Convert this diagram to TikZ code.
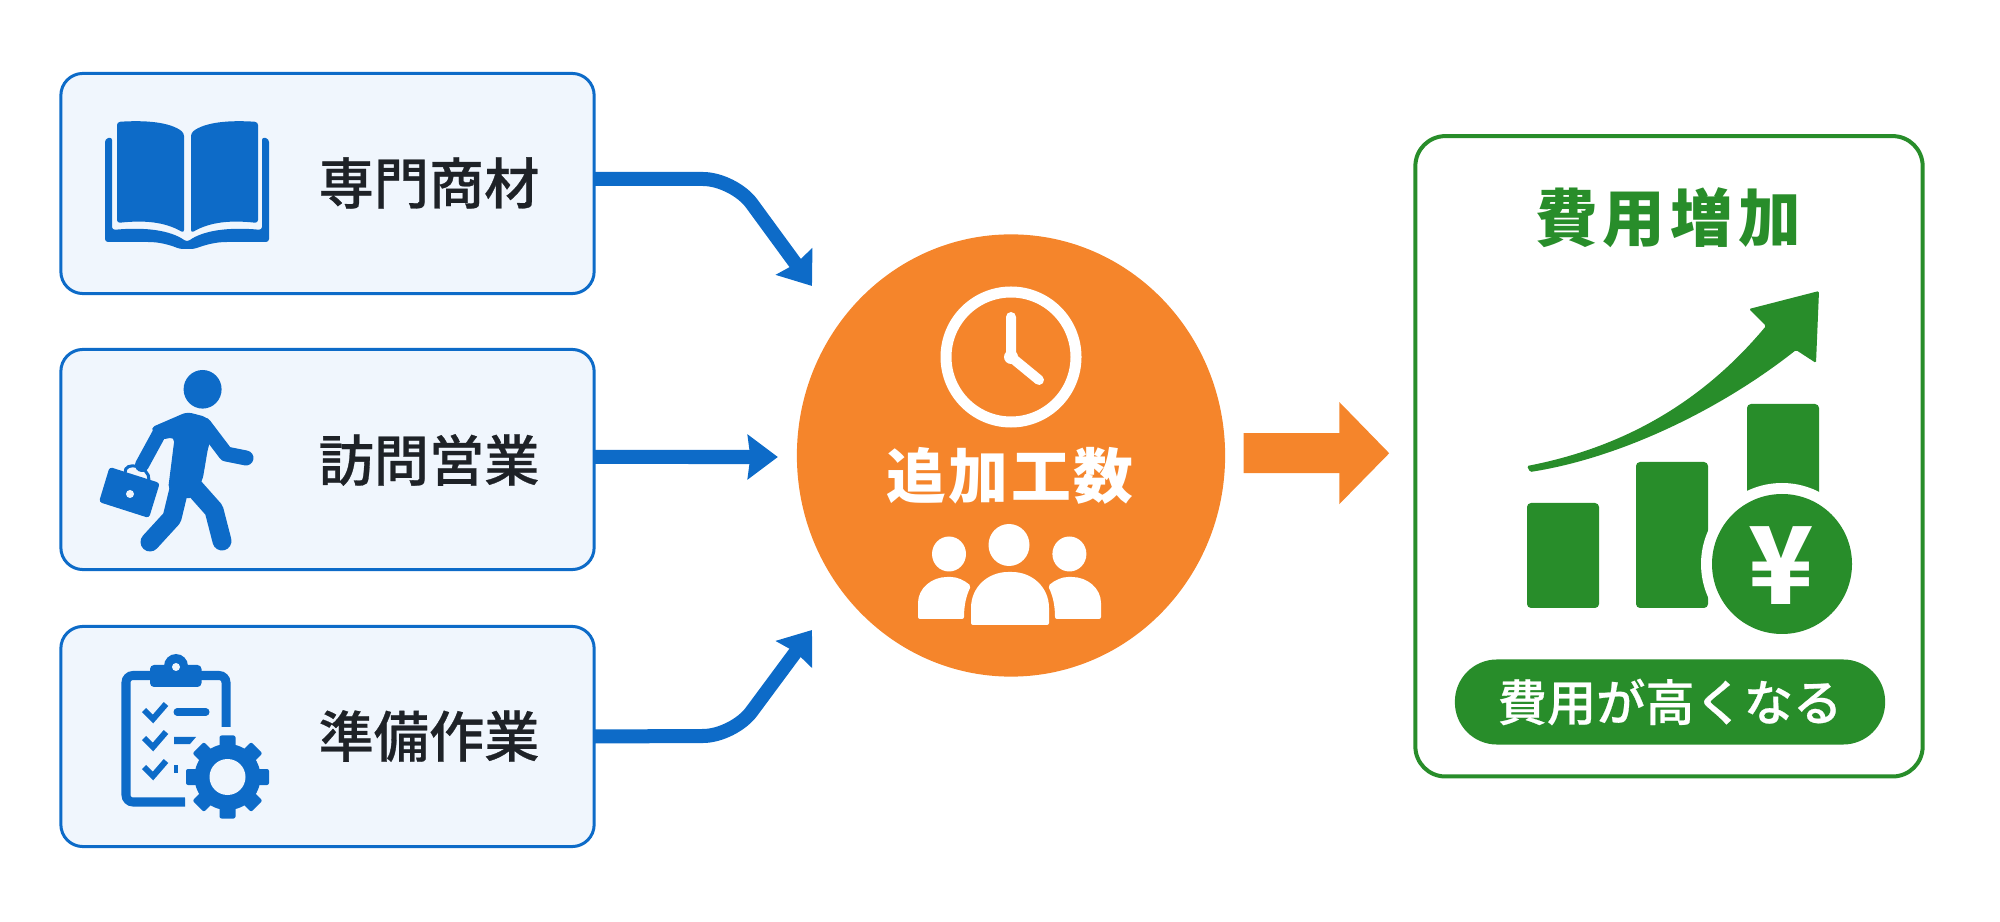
\documentclass[tikz,border=0pt]{standalone}
\usepackage{fontspec}
\setmainfont{Noto Sans CJK JP}
\newfontfamily\jpmed{Noto Sans CJK JP Medium}[FakeBold=0.5]
\usepackage{xcolor}
\usetikzlibrary{shapes.geometric, arrows.meta, positioning, calc}
\definecolor{iconblue}{HTML}{0D6BC8}
\definecolor{paleblue}{HTML}{F0F6FD}
\definecolor{hubor}{HTML}{F5852B}
\definecolor{costgreen}{HTML}{288D2A}
\definecolor{inkdark}{HTML}{1E2227}
\newcommand{\jpsize}[1]{\fontsize{#1}{#1}\selectfont\bfseries}
\newcommand{\jpmedsize}[1]{\fontsize{#1}{#1}\selectfont\jpmed}

\begin{document}
\begin{tikzpicture}[
    x=0.01cm, y=-0.01cm,
    itembox/.style={rectangle, draw=iconblue, fill=paleblue, line width=0.3mm, rounded corners=2.2mm, minimum width=5.33cm, minimum height=2.2cm, inner sep=0pt, outer sep=0pt},
    itemlabel/.style={text=inkdark, font=\jpmedsize{15.7pt}, inner sep=0pt},
    hubnode/.style={ellipse, fill=hubor, minimum width=4.28cm, minimum height=4.42cm, inner sep=0pt, outer sep=0pt},
    flow/.style={draw=iconblue, line width=1.4mm, -{Stealth[length=3mm, width=4.4mm, inset=0.25mm]}},
    outflow/.style={draw=hubor, line width=4mm, -{Triangle[length=5mm, width=9.9mm]}},
    bar/.style={fill=costgreen, rounded corners=0.4mm},
    tick/.style={draw=iconblue, line width=0.6mm},
    limb/.style={draw=iconblue, line cap=round, line join=round}
]
    \useasboundingbox (0,0) rectangle (2000,922);

    % left boxes
    \node [itembox] (books) at (327.5,183.5) {};
    \node [itembox] (visits) at (327.5,459.5) {};
    \node [itembox] (prep) at (327.5,736.5) {};
    \node [itemlabel] (bookstxt) at (429,183) {専門商材};
    \node [itemlabel] (visitstxt) at (429,460) {訪問営業};
    \node [itemlabel] (preptxt) at (429,736) {準備作業};

    % centre and right
    \node [hubnode] (hub) at (1011,455.5) {};
    \node [rectangle, draw=costgreen, fill=white, line width=0.4mm, rounded corners=3mm, minimum width=5.07cm, minimum height=6.4cm, inner sep=0pt, outer sep=0pt] (cost) at (1669,456.3) {};
    \node [text=white, font=\jpsize{17pt}\addfontfeature{LetterSpace=4}, inner sep=0pt] (hubtxt) at (1010,476) {追加工数};
    \node [text=costgreen, font=\jpsize{17.8pt}\addfontfeature{LetterSpace=8}, inner sep=0pt] (costtxt) at (1668,218) {費用増加};
    \node [rectangle, rounded corners=4.2mm, fill=costgreen, minimum width=4.3cm, minimum height=0.85cm, inner sep=0pt, text=white, font=\jpmedsize{14pt}] (pill) at (1670,702) {費用が高くなる};

    % connectors
    \coordinate (tipa) at (812,286);
    \coordinate (tipc) at (812,630);
    \draw [flow] ([yshift=0.45mm]books.east) -- (703,179) .. controls (720,179) and (742,190) .. (752,204) -- (tipa);
    \draw [flow, shorten >=1.9mm] ([yshift=0.25mm]visits.east) -- ([yshift=-0.15mm]hub.west);
    \draw [flow] (prep.east) -- (703,736) .. controls (720,736) and (742,725) .. (752,711) -- (tipc);
    \draw [outflow, shorten <=1.85mm, shorten >=2.6mm] ([yshift=0.25mm]hub.east) -- ([yshift=0.3mm]cost.west);

    % book icon
    \fill [iconblue, rounded corners=0.3mm] (105,139) -- (112,137) -- (112,230) .. controls (145,227) and (170,230) .. (187,242) .. controls (204,230) and (230,227) .. (262,230) -- (262,137) -- (269,139) -- (269,242) -- (230,242) .. controls (215,242) and (205,245) .. (194,249) -- (180,249) .. controls (170,245) and (160,242) .. (145,242) -- (105,242) -- cycle;
    \fill [iconblue, rounded corners=0.3mm] (117,122) .. controls (145,120) and (170,122) .. (184,133) -- (184,233) .. controls (165,222) and (145,220) .. (117,223) -- cycle;
    \fill [iconblue, rounded corners=0.3mm] (258,122) .. controls (230,120) and (205,122) .. (191,133) -- (191,233) .. controls (210,222) and (230,220) .. (258,223) -- cycle;

    % walking person
    \fill [iconblue] (202.6,389.3) ellipse [x radius=19, y radius=19.3];
    \fill [iconblue, rounded corners=0.5mm] (150,428) -- (187,412) -- (206.5,417) -- (214,430) -- (208,448) -- (202.6,480) -- (190,500) -- (168,490) -- (174.7,437) -- (160,440) -- cycle;
    \draw [limb, line width=1.5mm] (204,425) -- (226,454) -- (246,458);
    \draw [limb, line width=1.4mm] (160,432) -- (142,465);
    \draw [limb, line width=1.9mm] (190,483) -- (214,510) -- (222,541);
    \draw [limb, line width=1.9mm] (180,485) -- (172,518) -- (150,542);
    \fill [iconblue, rounded corners=0.3mm] (109.6,467) -- (159.8,483) -- (149,518) -- (99,502) -- cycle;
    \draw [iconblue, line width=0.3mm] (125,473) .. controls (124,460) and (150,466) .. (149,480);
    \fill [paleblue] (130,494) circle [radius=4];

    % clipboard and gear
    \draw [iconblue, line width=0.9mm, rounded corners=0.7mm] (226,727) -- (226,675.5) -- (126,675.5) -- (126,802) -- (185,802);
    \fill [iconblue] (176,666) circle [radius=12];
    \fill [iconblue, rounded corners=0.4mm] (150,665) rectangle (201.5,687);
    \fill [paleblue] (176,667) circle [radius=4];
    \foreach \yy in {712,740,769}
        \draw [tick] (144,\yy-2) -- (153,\yy+7) -- (166,\yy-8);
    \draw [iconblue, line width=0.7mm, line cap=round] (177,712) -- (206,712);
    \fill [iconblue] (174,737) -- (196,737) -- (190,744) -- (174,744) -- cycle;
    \fill [iconblue] (174,765) rectangle (178,773);
    \fill [paleblue] (227.5,777) circle [radius=47];
    \foreach \ang in {0,45,...,315}
        \fill [iconblue, rounded corners=0.2mm, rotate around={\ang:(227.5,777)}] (219.5,735.5) rectangle (235.5,755);
    \fill [iconblue] (227.5,777) circle [radius=33];
    \fill [paleblue] (227.5,777) circle [radius=18];

    % clock
    \draw [white, line width=1.1mm] (1011,357) circle [radius=65];
    \draw [white, line width=1mm, line cap=round, line join=round] (1011,317) -- (1011,357) -- (1039,380);
    \fill [white] (1011,357) circle [radius=7];

    % people
    \fill [white] (1009,545) ellipse [x radius=20.5, y radius=21];
    \fill [white] (949,554) ellipse [x radius=17, y radius=17.5];
    \fill [white] (1069.4,554) ellipse [x radius=17, y radius=17.5];
    \fill [white, rounded corners=0.2mm] (971,625) -- (971,610) .. controls (971,587) and (988,572) .. (1010,572) .. controls (1032,572) and (1049,587) .. (1049,610) -- (1049,625) -- cycle;
    \fill [white, rounded corners=0.2mm] (918,619) -- (918,605) .. controls (918,588) and (932,577) .. (949,577) .. controls (957,577) and (964,580) .. (971,586) .. controls (966,596) and (964,606) .. (964,619) -- cycle;
    \fill [white, rounded corners=0.2mm] (1101,619) -- (1101,605) .. controls (1101,588) and (1087,577) .. (1070,577) .. controls (1062,577) and (1055,580) .. (1048,586) .. controls (1053,596) and (1055,606) .. (1055,619) -- cycle;

    % chart
    \fill [bar] (1527,503) rectangle (1599,608);
    \fill [bar] (1636,462) rectangle (1708,608);
    \fill [bar] (1747,404) rectangle (1819,500);
    \fill [white] (1782,564) circle [radius=81];
    \fill [costgreen] (1782,564) circle [radius=70];
    \node [text=white, font=\jpsize{30.5pt}, inner sep=0pt] (yen) at (1781,566) {¥};
    \fill [costgreen, rounded corners=0.15mm] (1527,466) .. controls (1620,448) and (1700,405) .. (1766,326) -- (1749,309) -- (1819,291) -- (1816,363) -- (1796,350) .. controls (1720,410) and (1620,458) .. (1530,472) -- cycle;
\end{tikzpicture}
\end{document}
